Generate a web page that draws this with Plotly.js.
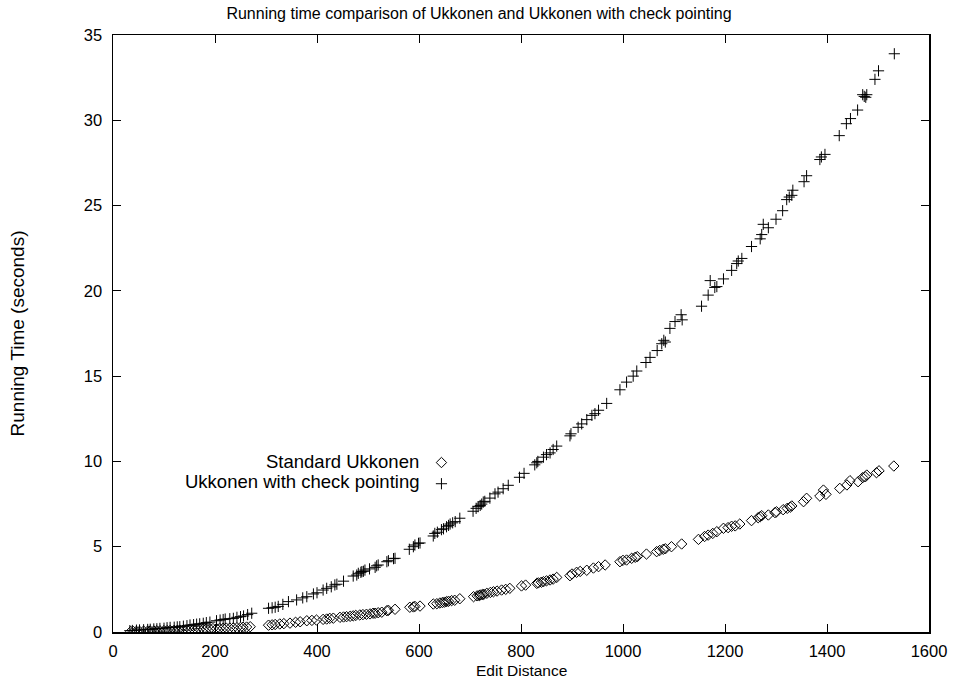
<!DOCTYPE html>
<html>
<head>
<meta charset="utf-8">
<script src="https://cdn.plot.ly/plotly-3.0.1.min.js"></script>
<style>
  html, body { margin: 0; padding: 0; background: #fff; }
  #chart { width: 958px; height: 683px; }
</style>
</head>
<body>
<div id="chart"></div>
<script>
// Edit distance vs running time, standard Ukkonen
const stdEdit = [35,40,46,52,60,68,73,80,86,92,100,106,112,120,126,131,138,145,151,158,164,170,177,183,190,196,203,209,216,222,229,236,243,250,255,262,269,
  305,312,318,327,335,347,358,367,380,390,399,412,419,425,432,445,452,458,465,471,476,484,490,497,504,510,514,520,527,537,540,553,
  582,589,592,602,628,635,641,646,650,654,658,664,670,680,
  707,714,718,720,724,727,733,740,746,753,762,770,778,801,809,
  831,834,840,844,850,857,863,870,896,900,909,916,929,942,952,965,994,1000,1007,1017,1024,1028,1046,1066,1072,1079,1083,1095,1115,
  1148,1160,1167,1176,1184,1197,1206,1213,1220,1229,1252,1265,1269,1272,1285,1298,1301,1314,1322,1328,1331,1354,1360,1386,1393,1398,1425,1439,1445,1461,1470,1475,1478,1497,1502,1531];
const stdTime = [0.03,0.03,0.04,0.04,0.05,0.05,0.06,0.06,0.07,0.07,0.08,0.08,0.09,0.10,0.10,0.11,0.12,0.12,0.13,0.14,0.15,0.16,0.17,0.18,0.19,0.20,0.20,0.21,0.22,0.23,0.23,0.24,0.25,0.27,0.28,0.29,0.31,
  0.40,0.42,0.44,0.47,0.49,0.52,0.57,0.60,0.66,0.68,0.70,0.74,0.76,0.80,0.81,0.86,0.88,0.90,0.92,0.95,0.97,1.00,1.02,1.04,1.06,1.10,1.10,1.13,1.16,1.25,1.27,1.33,
  1.45,1.47,1.50,1.52,1.64,1.66,1.70,1.73,1.75,1.78,1.80,1.84,1.86,1.95,
  2.07,2.12,2.14,2.17,2.19,2.21,2.27,2.32,2.36,2.40,2.46,2.50,2.56,2.70,2.75,
  2.85,2.88,2.92,2.95,3.00,3.05,3.10,3.20,3.30,3.40,3.50,3.55,3.62,3.75,3.83,3.93,4.12,4.20,4.22,4.32,4.38,4.42,4.57,4.71,4.78,4.85,4.88,5.00,5.16,
  5.43,5.60,5.68,5.78,5.88,6.08,6.12,6.20,6.22,6.33,6.53,6.70,6.76,6.82,6.86,7.00,7.05,7.17,7.25,7.32,7.39,7.64,7.84,7.97,8.32,8.07,8.42,8.62,8.87,8.81,9.05,9.10,9.20,9.34,9.45,9.73];

// Edit distance vs running time, Ukkonen with check pointing
const chkEdit = [33,38,46,52,60,68,73,80,86,92,100,106,112,120,126,131,138,145,151,158,164,170,177,183,190,203,210,216,220,229,236,243,250,256,264,272,
  305,312,318,324,333,344,360,372,380,393,400,412,419,428,435,439,452,471,478,481,486,488,491,494,503,514,517,520,537,540,550,553,
  581,589,592,599,602,628,631,636,644,648,654,658,661,666,671,680,
  706,712,716,720,723,726,729,739,749,755,765,775,797,806,
  827,831,833,844,850,857,863,870,896,898,912,919,929,939,945,952,968,994,1007,1020,1027,
  1045,1053,1067,1076,1080,1083,1092,1102,1114,1116,1154,1167,1171,1180,1184,1197,1213,1223,1226,1233,1252,1269,1272,1275,1285,1300,1313,1321,1326,1331,1333,1355,1360,1386,1389,1396,1424,1438,1446,1460,1470,1473,1476,1478,1494,1501,1532];
const chkTime = [0.08,0.09,0.11,0.12,0.13,0.15,0.16,0.18,0.19,0.21,0.22,0.25,0.27,0.28,0.30,0.31,0.34,0.37,0.41,0.43,0.46,0.48,0.51,0.55,0.58,0.66,0.70,0.73,0.76,0.78,0.80,0.86,0.90,0.94,1.02,1.10,
  1.39,1.42,1.45,1.50,1.62,1.78,1.88,2.00,2.07,2.23,2.30,2.46,2.56,2.65,2.76,2.80,2.98,3.28,3.34,3.44,3.50,3.54,3.56,3.63,3.70,3.79,3.88,3.93,4.12,4.18,4.30,4.32,
  4.85,5.00,5.10,5.20,5.22,5.63,5.78,5.85,6.00,6.05,6.17,6.25,6.33,6.40,6.47,6.67,
  7.08,7.25,7.35,7.42,7.50,7.62,7.66,7.85,8.10,8.20,8.40,8.60,9.07,9.30,
  9.80,9.92,10.00,10.25,10.40,10.50,10.70,10.90,11.50,11.62,12.00,12.20,12.45,12.70,12.80,13.00,13.40,14.20,14.65,15.00,15.30,
  15.80,16.10,16.50,16.90,17.10,17.00,17.80,18.20,18.60,18.30,19.10,19.75,20.60,20.20,20.25,20.70,21.20,21.60,21.75,21.90,22.60,23.05,23.30,23.90,23.70,24.20,24.70,25.35,25.50,25.60,25.90,26.40,26.75,27.70,27.85,28.00,29.10,29.80,30.10,30.60,31.50,31.40,31.35,31.50,32.40,32.90,33.90];

const seriesNames = ['Standard Ukkonen', 'Ukkonen with check pointing'];
const xTicks = [0, 200, 400, 600, 800, 1000, 1200, 1400, 1600];
const yTicks = [0, 5, 10, 15, 20, 25, 30, 35];

const FONT = 'Liberation Sans, Arial, Helvetica, sans-serif';
const diamondMarker = { symbol: 'diamond-open', size: 8, color: '#000', line: { width: 1, color: '#000' } };
const plusMarker = { symbol: 'cross-thin-open', size: 8, color: '#000', line: { width: 1, color: '#000' } };

const traces = [
  { x: stdEdit, y: stdTime, name: seriesNames[0], type: 'scatter', mode: 'markers', marker: diamondMarker, showlegend: false },
  { x: chkEdit, y: chkTime, name: seriesNames[1], type: 'scatter', mode: 'markers', marker: plusMarker, showlegend: false },
  // key samples (the key text sits to the left, gnuplot style)
  { x: [null], y: [null], name: '', type: 'scatter', mode: 'markers', marker: diamondMarker, showlegend: true },
  { x: [null], y: [null], name: '', type: 'scatter', mode: 'markers', marker: plusMarker, showlegend: true }
];

const axisCommon = {
  showgrid: false, zeroline: false,
  showline: true, linecolor: '#000', linewidth: 1.5, mirror: 'ticks',
  ticks: 'inside', ticklen: 8, tickwidth: 1, tickcolor: '#000',
  tickfont: { family: FONT, size: 16.5, color: '#000' }
};

const layout = {
  width: 958, height: 683,
  paper_bgcolor: '#fff', plot_bgcolor: '#fff',
  margin: { l: 113, r: 29, t: 35, b: 51 },
  font: { family: FONT, size: 14, color: '#000' },
  title: { text: 'Running time comparison of Ukkonen and Ukkonen with check pointing',
           font: { family: FONT, size: 16, color: '#000' }, x: 0.5, xref: 'container', xanchor: 'center', y: 0.98, yanchor: 'middle' },
  xaxis: Object.assign({}, axisCommon, {
    range: [0, 1600], tickvals: xTicks, ticktext: xTicks.map(String),
    ticklabelstandoff: 4
  }),
  yaxis: Object.assign({}, axisCommon, {
    range: [0, 35], tickvals: yTicks, ticktext: yTicks.map(String),
    ticklabelstandoff: 6,
    title: { text: 'Running Time (seconds)', font: { family: FONT, size: 19, color: '#000' }, standoff: 54 }
  }),
  showlegend: true,
  legend: {
    x: 0.378, y: 0.310, xanchor: 'left', yanchor: 'top',
    bgcolor: 'rgba(0,0,0,0)', borderwidth: 0,
    font: { family: FONT, size: 14, color: '#000' },
    itemwidth: 30
  },
  annotations: [
    // x-axis title
    { text: 'Edit Distance', xref: 'paper', yref: 'paper', x: 0.5, y: -0.0653, xanchor: 'center', yanchor: 'middle',
      showarrow: false, font: { family: FONT, size: 15.5, color: '#000' } },
    // key labels
    { text: seriesNames[0], xref: 'paper', yref: 'paper', x: 0.377, y: 0.2864, xanchor: 'right', yanchor: 'middle',
      showarrow: false, font: { family: FONT, size: 18.5, color: '#000' } },
    { text: seriesNames[1], xref: 'paper', yref: 'paper', x: 0.377, y: 0.2513, xanchor: 'right', yanchor: 'middle',
      showarrow: false, font: { family: FONT, size: 18.5, color: '#000' } }
  ]
};

Plotly.newPlot('chart', traces, layout, { displayModeBar: false, staticPlot: true });
</script>
</body>
</html>
